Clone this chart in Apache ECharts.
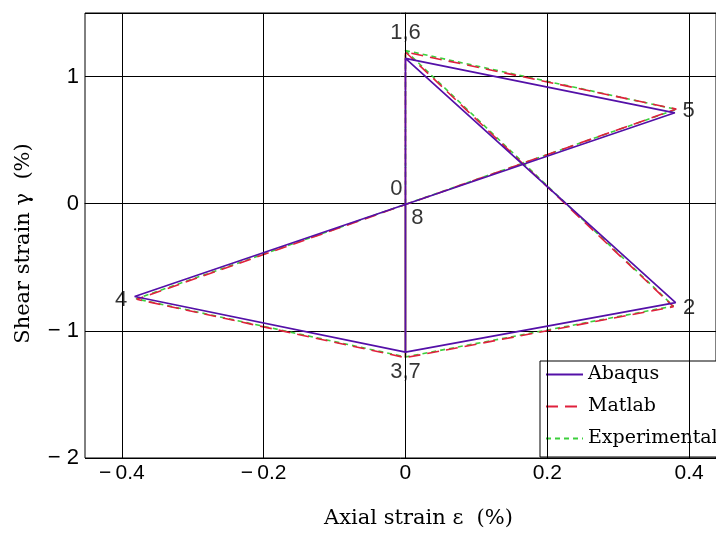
<!DOCTYPE html>
<html>
<head>
<meta charset="utf-8">
<script src="https://cdn.jsdelivr.net/npm/echarts@6/dist/echarts.min.js"></script>
<style>
  html, body { margin: 0; padding: 0; background: #fff; }
  #chart { width: 716px; height: 534px; }
</style>
</head>
<body>
<div id="chart"></div>
<script>
// Loading path points 0..8
const abaqusX = [0, 0, 0.381, 0, -0.382, 0.380, 0, 0, 0];
const abaqusY = [0, 1.143, -0.778, -1.167, -0.730, 0.715, 1.143, -1.167, 0];
const matlabX = [0, 0, 0.378, 0, -0.379, 0.382, 0, 0, 0];
const matlabY = [0, 1.193, -0.810, -1.211, -0.752, 0.744, 1.193, -1.211, 0];
const expX = [0, 0, 0.378, 0, -0.380, 0.382, 0, 0, 0];
const expY = [0, 1.205, -0.805, -1.205, -0.748, 0.742, 1.205, -1.205, 0];
const pointNames = ["0", "1,6", "2", "3,7", "4", "5", null, null, "8"];
const xTicks = [-0.4, -0.2, 0, 0.2, 0.4];
const seriesNames = ["Abaqus", "Matlab", "Experimental"];

const pairs = (xs, ys) => xs.map((x, i) => [x, ys[i]]);

// where each point number sits next to its point
const labelPlace = {
  "0": { position: "top", distance: 3, offset: [-9, 0] },
  "1,6": { position: "top", distance: 14, offset: [0, 0] },
  "2": { position: "right", distance: 7, offset: [0, 5] },
  "3,7": { position: "bottom", distance: 8, offset: [0, 0] },
  "4": { position: "left", distance: 7, offset: [0, 3] },
  "5": { position: "right", distance: 7, offset: [0, -2] },
  "8": { position: "bottom", distance: 3, offset: [12, 0] },
};

const signed = (v, gap) => (v < 0 ? "\u2212" + gap + Math.abs(v) : String(v));

const chart = echarts.init(document.getElementById("chart"));

const option = {
  animation: false,
  grid: {
    left: 85,
    top: 13,
    width: 632,
    bottom: 74,
    show: true,
    borderColor: "#000",
    borderWidth: 1,
  },
  legend: {
    data: seriesNames,
    orient: "vertical",
    left: 540,
    top: 361,
    padding: [4, 12, 9, 5],
    itemWidth: 37,
    itemHeight: 14,
    itemGap: 13,
    backgroundColor: "#fff",
    borderColor: "#000",
    borderWidth: 1,
    borderRadius: 0,
    // hide the round marker, keep only the line sample
    itemStyle: { color: "rgba(0,0,0,0)", borderWidth: 0 },
    textStyle: { fontFamily: "DejaVu Serif", fontSize: 19, color: "#000" },
  },
  xAxis: {
    type: "value",
    min: -0.452,
    max: 0.438,
    name: "Axial strain \u03b5  (%)",
    nameLocation: "middle",
    nameGap: 50,
    nameTextStyle: {
      fontFamily: "DejaVu Serif",
      fontSize: 21,
      color: "#000",
      padding: [0, 0, 0, 36],
    },
    axisLine: { lineStyle: { color: "#000", width: 1 } },
    axisTick: { show: false },
    splitLine: { show: false },
    axisLabel: {
      customValues: xTicks,
      formatter: (v) => signed(v, "\u2009"),
      fontFamily: "Liberation Sans",
      fontSize: 21,
      color: "#000",
      margin: 5,
    },
  },
  yAxis: {
    type: "value",
    min: -2,
    max: 1.5,
    interval: 1,
    name: "Shear strain \u03b3  (%)",
    nameLocation: "middle",
    nameGap: 51,
    nameTextStyle: {
      fontFamily: "DejaVu Serif",
      fontSize: 21,
      color: "#000",
      padding: [0, 16, 0, 0],
    },
    axisLine: { lineStyle: { color: "#000", width: 1 } },
    axisTick: { show: false },
    splitLine: { show: true, lineStyle: { color: "#000", width: 1 } },
    axisLabel: {
      formatter: (v) => (v > 1.2 ? "" : signed(v, " ")),
      fontFamily: "Liberation Sans",
      fontSize: 22,
      color: "#000",
      margin: 6,
    },
  },
  series: [
    // vertical grid lines at the x ticks
    {
      name: "xgrid",
      type: "line",
      data: [],
      z: 1,
      markLine: {
        silent: true,
        symbol: "none",
        label: { show: false },
        lineStyle: { color: "#000", width: 1, type: "solid" },
        data: xTicks.map((v) => ({ xAxis: v })),
      },
    },
    {
      name: "Experimental",
      type: "line",
      data: pairs(expX, expY),
      showSymbol: false,
      symbol: "none",
      z: 3,
      lineStyle: { color: "#3ccf3c", width: 1.6, type: [5, 4] },
      itemStyle: { color: "#3ccf3c" },
    },
    {
      name: "Matlab",
      type: "line",
      data: pairs(matlabX, matlabY),
      showSymbol: false,
      symbol: "none",
      z: 4,
      lineStyle: { color: "#e0203c", width: 1.6, type: [12, 7] },
      itemStyle: { color: "#e0203c" },
    },
    {
      name: "Abaqus",
      type: "line",
      data: pairs(abaqusX, abaqusY),
      showSymbol: false,
      symbol: "none",
      z: 5,
      lineStyle: { color: "#5410a8", width: 1.7 },
      itemStyle: { color: "#5410a8" },
    },
    // point numbers
    {
      name: "points",
      type: "scatter",
      symbolSize: 1,
      z: 6,
      itemStyle: { color: "rgba(0,0,0,0)" },
      data: pointNames
        .map((n, i) =>
          n
            ? {
                name: n,
                value: [abaqusX[i], abaqusY[i]],
                label: labelPlace[n],
              }
            : null
        )
        .filter(Boolean),
      label: {
        show: true,
        formatter: "{b}",
        fontFamily: "Liberation Sans",
        fontSize: 22,
        color: "#000",
      },
    },
  ],
};

chart.setOption(option);
</script>
</body>
</html>
